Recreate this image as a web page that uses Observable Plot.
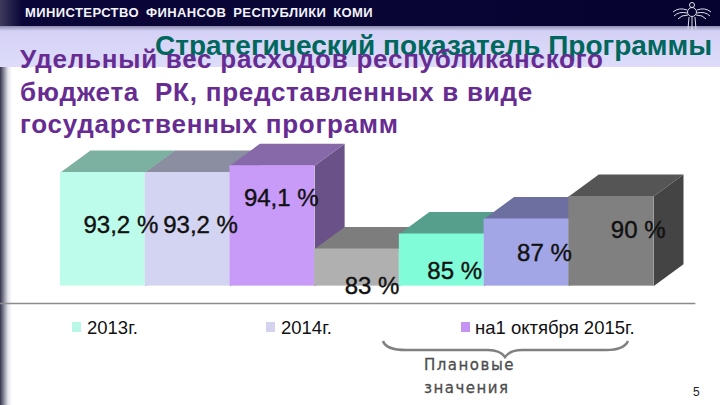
<!DOCTYPE html>
<html>
<head>
<meta charset="utf-8">
<script src="https://cdn.jsdelivr.net/npm/d3@7"></script>
<script src="https://cdn.jsdelivr.net/npm/@observablehq/plot@0.6"></script>
<style>
  html, body { margin: 0; padding: 0; background: #fff; }
  #page { position: relative; width: 720px; height: 405px; overflow: hidden; font-family: "Liberation Sans", Arial, sans-serif; }
  #page > div, #page > svg { position: absolute; }
  .t { white-space: nowrap; }
  #navy { left: 0; top: 0; width: 720px; height: 26px; background: linear-gradient(90deg, #3d3a5c 0, #0a0638 22px, #070330 100%); }
  #band { left: 0; top: 26px; width: 720px; height: 41px; background: linear-gradient(180deg, #8f8db0 0, #d4d1f6 5px, #dedcfa 100%); }
  #strip { left: 0; top: 67px; width: 12px; height: 338px; background: linear-gradient(90deg, #33334a 0, #8d8da0 4px, #e4e4ea 8px, #fff 100%); }
  #ministry { left: 25px; top: 5px; color: #f4f4fa; font-weight: bold; font-size: 13px; letter-spacing: 0.4px; word-spacing: 3px; }
  #title { left: 155px; top: 30px; color: #00675c; font-weight: bold; font-size: 28px; }
  #sub { left: 20px; top: 43px; color: #672c91; font-weight: bold; font-size: 26px; letter-spacing: 0.75px; line-height: 32.5px; }
  #chart { left: 0; top: 130px; }
  .leg { font-size: 18.5px; color: #111; top: 317px; }
  .sw { width: 9px; height: 10px; top: 322px; }
  #plan { left: 424px; top: 354px; color: #4d4d4d; font-family: "DejaVu Sans"; font-size: 15px; line-height: 23px; letter-spacing: 1.5px; -webkit-text-stroke: 0.3px #4d4d4d; }
  #num { left: 693px; top: 385px; font-size: 12px; color: #222; }
</style>
</head>
<body>
<div id="page">
  <div id="navy"></div>
  <div id="band"></div>
  <div id="strip"></div>
  <div id="ministry" class="t">МИНИСТЕРСТВО ФИНАНСОВ РЕСПУБЛИКИ КОМИ</div>
  <svg style="left:670px;top:0" width="46" height="32" fill="none" stroke="#dfe0ea" stroke-width="1">
    <circle cx="22" cy="5" r="2.5"/>
    <circle cx="22" cy="12" r="4.5"/>
    <path d="M17 10 Q9 7 3 12 M17 13 Q9 11 4 16 M18 15 Q11 15 8 19 M27 10 Q35 7 41 12 M27 13 Q35 11 40 16 M26 15 Q33 15 36 19 M19 17 L18 29 M22 17 L22 30 M25 17 L26 29"/>
  </svg>
  <div id="title" class="t">Стратегический показатель Программы</div>
  <div id="sub" class="t">Удельный вес расходов республиканского<br>бюджета&nbsp; РК, представленных в виде<br>государственных программ</div>
  <div id="chart"></div>
  <div class="sw" style="left:72px;background:#b9f7e6"></div>
  <div class="leg t" style="left:87px">2013г.</div>
  <div class="sw" style="left:266px;background:#d3d3f0"></div>
  <div class="leg t" style="left:281px">2014г.</div>
  <div class="sw" style="left:461px;background:#c594f2"></div>
  <div class="leg t" style="left:475px">на1 октября 2015г.</div>
  <svg style="left:380px;top:335px" width="252" height="26" fill="none" stroke="#808080" stroke-width="2.5">
    <path d="M3 6 Q6 15 26 15 L108 15 Q120 15 125 22 Q130 15 142 15 L226 15 Q244 15 248 6"/>
  </svg>
  <div id="plan" class="t">Плановые<br>значения</div>
  <div id="num">5</div>
</div>
<script>
const periods = ["2013г.", "2014г.", "на1 октября 2015г.", "2013г.", "2014г.", "на1 октября 2015г.", "плановое"]
const values = [93.2, 93.2, 94.1, 83, 85, 87, 90]
const labels = ["93,2 %", "93,2 %", "94,1 %", "83 %", "85 %", "87 %", "90 %"]

const frontColors = ["#bdfcea", "#d2d4f2", "#c89bf8", "#b0b0b0", "#80fcd9", "#a2a5e6", "#808080"]
const topColors = ["#7cb0a0", "#8a8ea0", "#8768a8", "#7d7d7d", "#559f8c", "#6c6fa0", "#555555"]
const sideColors = ["#6f9b8d", "#74779a", "#6a5288", "#666666", "#4a8a78", "#5a5d90", "#444444"]

const base = 78.05
const depthX = 0.354   // oblique depth, in bar widths
const depthY = 2.93    // oblique depth, in percentage points
const labelNudge = [[18, 53], [13, 53], [9, 33], [15, 37], [13, 37], [18, 34], [27, 34]]

const bars = values.map((v, i) => ({i, v, label: labels[i], period: periods[i], front: frontColors[i]}))

// top and side faces, in drawing order, so each bar's top overlaps the side before it
const faces = bars.flatMap(b => {
  const top = [[b.i, b.v], [b.i + 1, b.v], [b.i + 1 + depthX, b.v + depthY], [b.i + depthX, b.v + depthY]]
  const side = [[b.i + 1, b.v], [b.i + 1 + depthX, b.v + depthY], [b.i + 1 + depthX, base + depthY], [b.i + 1, base]]
  return [
    ...side.map(([x, y]) => ({x, y, face: "s" + b.i, color: sideColors[b.i]})),
    ...top.map(([x, y]) => ({x, y, face: "t" + b.i, color: topColors[b.i]}))
  ]
})

const chart = Plot.plot({
  width: 720,
  height: 180,
  marginLeft: 60,
  marginRight: 67,
  marginTop: 6,
  marginBottom: 24,
  x: {domain: [0, 7], axis: null},
  y: {domain: [78, 98], axis: null},
  color: {type: "identity"},
  style: {background: "transparent", overflow: "visible"},
  marks: [
    Plot.ruleY([75.75], {x1: -0.71, x2: 7.5, stroke: "#8c8c8c", strokeWidth: 1.5}),
    Plot.line(faces, {x: "x", y: "y", z: "face", fill: "color", stroke: "none", curve: "linear"}),
    Plot.rectY(bars, {x1: "i", x2: d => d.i + 1, y1: base, y2: "v", fill: "front"}),
    ...bars.map((b, i) => Plot.text([b], {
      x: d => d.i + 0.5,
      y: "v",
      text: "label",
      dx: labelNudge[i][0],
      dy: labelNudge[i][1],
      fontSize: 24,
      fontFamily: "Liberation Sans",
      fill: "#111",
      stroke: "#111",
      strokeWidth: 0.4
    }))
  ]
})
d3.select('#chart').append(() => chart)
</script>
</body>
</html>
